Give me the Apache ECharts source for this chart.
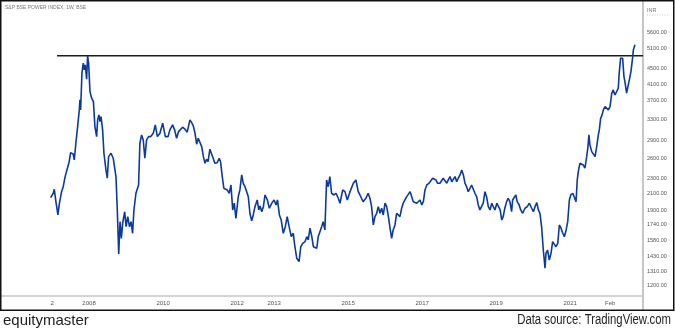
<!DOCTYPE html>
<html>
<head>
<meta charset="utf-8">
<script src="https://cdn.jsdelivr.net/npm/echarts@6/dist/echarts.min.js"></script>
<style>
  html, body { margin: 0; padding: 0; background: #fff; }
  #chart { width: 675px; height: 329px; }
</style>
</head>
<body>
<div id="chart"></div>
<script>
// S&P BSE Power Index, weekly closes (INR)
const weekDates = [
  '2006-12-18','2007-01-13','2007-01-23','2007-02-10','2007-02-28','2007-03-12','2007-04-05','2007-04-21','2007-05-10','2007-05-29',
  '2007-06-19','2007-07-03','2007-07-28','2007-08-08','2007-08-24','2007-09-07','2007-09-27','2007-10-03','2007-10-10','2007-10-23',
  '2007-11-05','2007-11-15','2007-11-25','2007-12-08','2007-12-18','2007-12-28','2008-01-10','2008-01-27','2008-02-13','2008-02-28',
  '2008-03-16','2008-03-26','2008-04-08','2008-04-18','2008-04-28','2008-05-14','2008-05-27','2008-06-16','2008-06-29','2008-07-12',
  '2008-08-05','2008-08-27','2008-09-23','2008-10-06','2008-10-20','2008-11-02','2008-11-15','2008-11-28','2008-12-18','2009-01-01',
  '2009-01-17','2009-02-03','2009-02-19','2009-03-06','2009-03-19','2009-04-08','2009-05-04','2009-05-17','2009-06-03','2009-06-19',
  '2009-07-05','2009-07-22','2009-08-11','2009-09-01','2009-09-26','2009-10-16','2009-11-05','2009-12-01','2009-12-28','2010-01-23',
  '2010-02-19','2010-03-09','2010-04-05','2010-04-25','2010-05-14','2010-06-03','2010-06-16','2010-07-12','2010-08-05','2010-08-27',
  '2010-09-23','2010-10-10','2010-10-26','2010-11-12','2010-11-28','2010-12-14','2011-01-01','2011-01-17','2011-02-03','2011-02-19',
  '2011-03-06','2011-03-21','2011-04-08','2011-04-24','2011-05-10','2011-05-27','2011-06-19','2011-07-09','2011-07-22','2011-08-08',
  '2011-08-24','2011-09-11','2011-09-26','2011-10-16','2011-11-02','2011-11-19','2011-12-04','2011-12-21','2012-01-13','2012-01-29',
  '2012-02-16','2012-03-02','2012-03-19','2012-04-05','2012-04-21','2012-05-07','2012-05-24','2012-06-09','2012-06-26','2012-07-18',
  '2012-08-02','2012-08-15','2012-09-01','2012-09-17','2012-10-03','2012-10-26','2012-11-15','2012-12-08','2013-01-01','2013-01-20',
  '2013-02-03','2013-02-22','2013-03-12','2013-04-01','2013-04-21','2013-05-10','2013-05-29','2013-06-19','2013-07-09','2013-07-25',
  '2013-08-12','2013-09-04','2013-09-21','2013-10-10','2013-11-02','2013-11-19','2013-12-04','2013-12-21','2014-01-08','2014-01-23',
  '2014-02-09','2014-02-26','2014-03-12','2014-03-28','2014-04-15','2014-04-30','2014-05-17','2014-06-03','2014-06-19','2014-07-05',
  '2014-07-22','2014-08-14','2014-09-04','2014-09-26','2014-10-13','2014-11-09','2014-12-01','2014-12-24','2015-01-20','2015-02-07',
  '2015-02-22','2015-03-19','2015-04-11','2015-04-28','2015-05-14','2015-05-29','2015-06-26','2015-07-18','2015-08-05','2015-08-21',
  '2015-09-07','2015-09-23','2015-10-10','2015-10-26','2015-11-12','2015-11-28','2015-12-14','2016-01-01','2016-01-17','2016-02-03',
  '2016-02-19','2016-03-06','2016-03-21','2016-04-08','2016-04-24','2016-05-10','2016-05-27','2016-06-13','2016-06-28','2016-07-15',
  '2016-08-02','2016-08-17','2016-09-04','2016-09-20','2016-10-06','2016-10-22','2016-11-09','2016-11-25','2016-12-11','2016-12-28',
  '2017-01-13','2017-01-29','2017-02-16','2017-03-09','2017-03-28','2017-04-15','2017-04-28','2017-05-17','2017-06-03','2017-06-26',
  '2017-07-12','2017-07-28','2017-08-14','2017-09-01','2017-09-16','2017-10-03','2017-10-20','2017-11-05','2017-11-22','2017-12-08',
  '2017-12-24','2018-01-10','2018-01-27','2018-02-12','2018-02-28','2018-03-16','2018-04-01','2018-04-18','2018-05-04','2018-05-20',
  '2018-06-06','2018-06-23','2018-07-09','2018-07-25','2018-08-11','2018-08-27','2018-09-13','2018-09-29','2018-10-16','2018-11-02',
  '2018-11-19','2018-12-04','2018-12-21','2019-01-08','2019-01-23','2019-02-10','2019-02-26','2019-03-12','2019-03-28','2019-04-15',
  '2019-04-30','2019-05-17','2019-06-03','2019-06-13','2019-06-26','2019-07-15','2019-07-28','2019-08-17','2019-09-01','2019-09-20',
  '2019-10-13','2019-11-05','2019-11-25','2019-12-18','2020-01-04','2020-01-20','2020-02-07','2020-02-22','2020-03-09','2020-03-25',
  '2020-04-11','2020-04-28','2020-05-07','2020-05-23','2020-06-09','2020-06-26','2020-07-12','2020-07-28','2020-08-14','2020-09-01',
  '2020-09-16','2020-10-03','2020-10-20','2020-11-05','2020-11-22','2020-12-08','2020-12-24','2021-01-07','2021-01-27','2021-02-12',
  '2021-02-28','2021-03-12','2021-03-25','2021-04-08','2021-04-24','2021-05-10','2021-05-27','2021-06-13','2021-06-26','2021-07-05',
  '2021-07-15','2021-08-02','2021-08-17','2021-09-04','2021-09-20','2021-10-06','2021-10-16','2021-10-29','2021-11-12','2021-11-25',
  '2021-12-11','2021-12-28','2022-01-13','2022-01-29','2022-02-16','2022-03-02','2022-03-19','2022-04-05','2022-04-21','2022-04-30',
  '2022-05-14','2022-06-03','2022-06-16','2022-06-28','2022-07-12','2022-07-22','2022-08-08','2022-08-24','2022-09-07','2022-09-17','2022-10-03'
];
const closeValues = [
  2051,2107,2159,1983,1846,1962,2128,2193,2332,2309,
  2554,2699,2677,2581,2858,3100,3502,3722,3502,4380,
  4656,4469,4607,4223,4860,4656,3915,3761,3684,3163,
  2976,3295,3397,3261,3362,3100,2689,2429,2309,2634,
  2689,2608,2332,1903,1455,1772,1601,1755,1883,1719,
  1827,1719,1772,1651,1903,2107,2216,2858,3007,2916,
  2608,2916,2976,2976,3038,3196,2976,3038,3229,2976,
  2976,3100,3196,3100,2946,3068,3100,3152,3113,3057,
  3295,3241,3177,3038,2841,2946,2976,2800,2634,2530,
  2592,2554,2756,2744,2608,2530,2539,2608,2554,2332,
  2172,2193,2150,2107,2216,1903,1983,1809,2064,2150,
  2356,2239,2193,2128,2064,1865,1782,1846,1942,2023,
  1903,1950,1883,1942,2085,2023,1923,1983,2023,1962,
  2023,1846,1790,1651,1719,1827,1719,1617,1651,1521,
  1418,1389,1521,1553,1569,1617,1585,1703,1617,1521,
  1537,1507,1617,1634,1719,1772,1685,2285,2193,2332,
  2107,2085,2107,2044,1983,2150,2128,2023,2128,2107,
  2239,2285,2128,2085,2064,2002,2044,2107,2044,1942,
  1737,1827,1865,1942,1865,1923,1846,1983,1942,1827,
  1703,1601,1685,1737,1865,1883,1827,1923,1983,2023,
  2064,2085,2128,2107,2002,2023,1983,1962,2023,1962,
  2002,2150,2216,2239,2261,2309,2309,2285,2239,2239,
  2261,2309,2332,2239,2285,2332,2261,2285,2332,2261,
  2309,2356,2429,2356,2239,2193,2128,2172,2216,2193,
  2107,2064,1962,1903,1903,1983,2128,2064,1942,1903,
  1983,1942,1903,1983,1962,1903,1790,1827,1923,2002,
  2044,2002,1883,2023,2023,2085,2002,1962,1903,1865,
  1923,1942,1983,1923,1883,1942,1990,1903,1865,1719,
  1491,1334,1461,1491,1403,1461,1569,1553,1521,1553,
  1737,1703,1651,1617,1685,1772,2023,2085,2107,2128,
  2002,2285,2429,2530,2530,2504,2454,2634,2800,3007,
  2829,2716,2689,2634,2800,3007,3100,3329,3397,3502,
  3573,3538,3502,3573,3877,3956,3837,3915,3997,4380,
  4799,4799,4290,4120,3877,3837,4205,4423,4750,5049,5205
];

// 2008 high carried forward as a horizontal resistance level
const resistanceDates = ['2007-02-19', '2022-12-21'];
const resistanceLevel = [4870, 4870];

// Axis ticks
const yTickValues = [1200, 1310, 1430, 1580, 1740, 1900, 2100, 2300, 2600, 2900, 3300, 3700, 4100, 4500, 5100, 5600];
const xTickDates = ['2007-01-01','2008-01-01','2010-01-01','2012-01-01','2013-01-01','2015-01-01','2017-01-01','2019-01-01','2021-01-01','2022-02-01'];
const xTickLabels = ['2','2008','2010','2012','2013','2015','2017','2019','2021','Feb'];
const xRange = ['2005-08-15', '2022-12-21'];

// dates are placed on a linear (millisecond) axis
const toTime = d => echarts.time.parse(d).getTime();
const xTickTimes = xTickDates.map(toTime);
const DAY = 86400000;
function xLabel(v) {
  for (let i = 0; i < xTickTimes.length; i++) {
    if (Math.abs(xTickTimes[i] - v) < DAY) return xTickLabels[i];
  }
  return '';
}

const indexSeries = weekDates.map((d, i) => [toTime(d), closeValues[i]]);
const levelSeries = resistanceDates.map((d, i) => [toTime(d), resistanceLevel[i]]);

const chart = echarts.init(document.getElementById('chart'), null, { renderer: 'canvas' });
const small = 'Liberation Sans';

chart.setOption({
  animation: false,
  backgroundColor: '#ffffff',
  grid: { left: 1, right: 32, top: 1, bottom: 33.5 },
  xAxis: {
    type: 'value',
    min: toTime(xRange[0]),
    max: toTime(xRange[1]),
    axisLine: { show: true, lineStyle: { color: '#c6c6c6', width: 1.5 } },
    axisTick: { show: false },
    splitLine: { show: false },
    axisLabel: {
      customValues: xTickTimes,
      formatter: xLabel,
      fontSize: 6,
      fontFamily: small,
      color: '#555',
      margin: 5,
      hideOverlap: false
    }
  },
  yAxis: {
    type: 'log',
    logBase: 10,
    position: 'right',
    min: 1130,
    max: 6800,
    axisLine: { show: true, lineStyle: { color: '#c6c6c6', width: 2 } },
    axisTick: { show: false },
    splitLine: { show: false },
    axisLabel: {
      customValues: yTickValues,
      formatter: v => Number(v).toFixed(2),
      fontSize: 5.5,
      fontFamily: small,
      color: '#555',
      margin: 4,
      hideOverlap: false
    }
  },
  series: [
    {
      name: 'S&P BSE Power',
      type: 'line',
      data: indexSeries,
      symbol: 'none',
      lineStyle: { color: '#0b3a9e', width: 1.6 },
      z: 3
    },
    {
      name: 'Resistance',
      type: 'line',
      data: levelSeries,
      symbol: 'none',
      lineStyle: { color: '#1c1c1c', width: 1.5 },
      z: 2
    }
  ],
  graphic: [
    { type: 'rect', silent: true, z: 100,
      shape: { x: 0.75, y: 0.75, width: 673, height: 309.5 },
      style: { fill: null, stroke: '#111', lineWidth: 1.5 } },
    { type: 'line', silent: true, z: 50,
      shape: { x1: 643, y1: 295, x2: 643, y2: 310 },
      style: { stroke: '#c6c6c6', lineWidth: 2 } },
    { type: 'text', silent: true, x: 5, y: 5,
      style: { text: 'S&P BSE POWER INDEX, 1W, BSE', fill: '#777', font: '5px ' + small } },
    { type: 'text', silent: true, x: 647, y: 7,
      style: { text: 'INR', fill: '#777', font: '5.5px ' + small } },
    { type: 'line', silent: true,
      shape: { x1: 647, y1: 15, x2: 668, y2: 15 },
      style: { stroke: '#c8c8c8', lineWidth: 1, lineDash: [1, 1.5] } },
    { type: 'text', silent: true, x: 3, y: 313,
      style: { text: 'equitymaster', fill: '#222', font: '15px ' + small } },
    // condensed source line, right-aligned to the frame edge
    { type: 'text', silent: true, x: 671, y: 313, scaleX: 0.81,
      style: { text: 'Data source: TradingView.com', fill: '#222', font: '14px ' + small, textAlign: 'right' } }
  ]
});
</script>
</body>
</html>
